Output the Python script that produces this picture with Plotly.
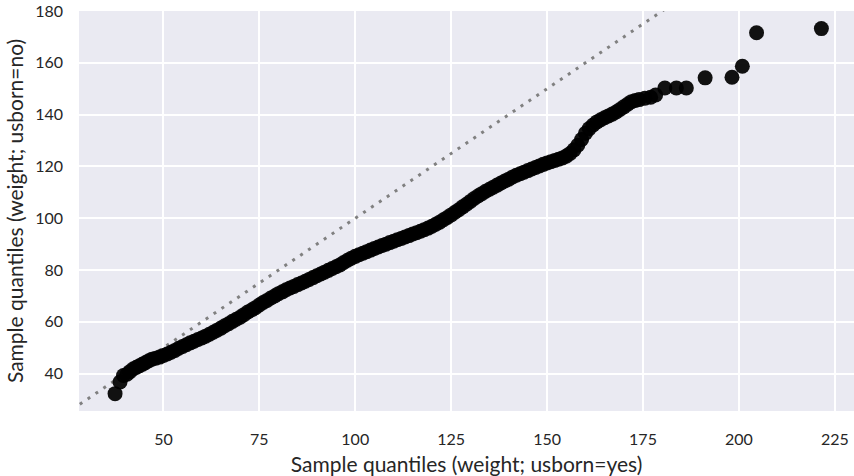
import plotly.graph_objects as go

# Quantile pairs (x: usborn=yes, y: usborn=no), rows of 10
q_yes = [37.4, 38.7, 39.6, 40.5, 41.3, 42.2, 43.0, 43.8, 44.6, 45.4,
         46.2, 47.0, 48.0, 49.0, 50.0, 51.0, 52.0, 53.0, 54.0, 55.0,
         56.0, 57.0, 58.0, 59.0, 60.0, 61.0, 62.0, 63.0, 64.0, 65.0,
         66.0, 67.0, 68.0, 69.0, 70.0, 71.0, 72.0, 73.0, 74.0, 75.0,
         76.0, 77.0, 78.0, 79.0, 80.0, 81.0, 82.0, 83.0, 84.0, 85.0,
         86.0, 87.0, 88.0, 89.0, 90.0, 91.0, 92.0, 93.0, 94.0, 95.0,
         96.0, 97.0, 98.0, 99.0, 100.0, 101.0, 102.0, 103.0, 104.0, 105.0,
         106.0, 107.0, 108.0, 109.0, 110.0, 111.0, 112.0, 113.0, 114.0, 115.0,
         116.0, 117.0, 118.0, 119.0, 120.0, 121.0, 122.0, 123.0, 124.0, 125.0,
         126.0, 127.0, 128.0, 129.0, 130.0, 131.0, 132.0, 133.0, 134.0, 135.0,
         136.0, 137.0, 138.0, 139.0, 140.0, 141.0, 142.0, 143.0, 144.0, 145.0,
         146.0, 147.0, 148.0, 149.0, 150.0, 151.0, 152.0, 153.0, 154.0, 155.0,
         156.0, 157.0, 158.0, 159.0, 160.0, 161.0, 162.0, 163.0, 164.0, 165.0,
         166.0, 167.0, 168.0, 169.0, 170.0, 171.0, 172.0, 173.0, 174.0, 175.5,
         177.0, 178.3, 180.7, 183.7, 186.3, 191.2, 198.2, 200.9, 204.6, 221.5]
q_no = [32.3, 36.8, 39.3, 39.8, 40.8, 41.9, 42.5, 43.1, 43.7, 44.3,
        45.0, 45.6, 46.0, 46.4, 47.0, 47.6, 48.3, 49.0, 49.8, 50.5,
        51.2, 51.9, 52.5, 53.2, 53.8, 54.5, 55.2, 56.0, 56.8, 57.6,
        58.5, 59.3, 60.2, 61.0, 61.8, 62.8, 63.8, 64.6, 65.5, 66.5,
        67.5, 68.3, 69.2, 70.0, 70.9, 71.6, 72.4, 73.1, 73.7, 74.4,
        75.0, 75.7, 76.4, 77.1, 77.8, 78.5, 79.2, 79.9, 80.6, 81.3,
        82.0, 82.9, 83.8, 84.6, 85.3, 85.9, 86.5, 87.1, 87.7, 88.3,
        88.9, 89.5, 90.0, 90.6, 91.1, 91.7, 92.2, 92.8, 93.3, 93.9,
        94.4, 95.0, 95.6, 96.2, 96.9, 97.7, 98.5, 99.4, 100.3, 101.3,
        102.3, 103.3, 104.4, 105.4, 106.5, 107.6, 108.6, 109.5, 110.4, 111.2,
        112.0, 112.8, 113.6, 114.4, 115.1, 115.9, 116.6, 117.2, 117.8, 118.4,
        119.0, 119.6, 120.2, 120.8, 121.3, 121.8, 122.3, 122.8, 123.3, 124.0,
        125.0, 126.4, 128.2, 130.4, 132.8, 134.6, 136.0, 137.2, 138.0, 138.8,
        139.5, 140.2, 141.0, 142.0, 143.0, 144.0, 145.0, 145.5, 145.8, 146.3,
        146.7, 147.6, 150.3, 150.3, 150.3, 154.2, 154.4, 158.7, 171.6, 173.2]

ref_line = [20, 240]

x_ticks = [50, 75, 100, 125, 150, 175, 200, 225]
y_ticks = [40, 60, 80, 100, 120, 140, 160, 180]

FONT = "Lato"
TXT = "#262626"

fig = go.Figure()
fig.add_trace(go.Scatter(
    x=ref_line, y=ref_line, mode="lines",
    line=dict(color="#808080", width=3, dash="3px,6.5px"),
    hoverinfo="skip", showlegend=False,
))
fig.add_trace(go.Scatter(
    x=q_yes, y=q_no, mode="markers",
    marker=dict(color="rgba(0,0,0,0.93)", size=15, line=dict(width=0)),
    showlegend=False,
))

fig.update_layout(
    width=854, height=476,
    margin=dict(l=79, r=0, t=11, b=65, autoexpand=False),
    paper_bgcolor="white",
    plot_bgcolor="#EAEAF2",
    font=dict(family=FONT, color=TXT, size=16),
)
fig.update_xaxes(
    range=[28.0, 230.0], tickvals=x_ticks, ticktext=[str(v) for v in x_ticks],
    showgrid=True, gridcolor="white", gridwidth=1.6, zeroline=False,
    showline=False, ticks="", ticklabelstandoff=17, automargin=False,
    tickfont=dict(size=16, family=FONT, color=TXT),
    title=dict(text="Sample quantiles (weight; usborn=yes)", font=dict(size=21, family=FONT, color=TXT), standoff=10),
)
fig.update_yaxes(
    range=[25.6, 180.0], tickvals=y_ticks, ticktext=[str(v) for v in y_ticks],
    showgrid=True, gridcolor="white", gridwidth=1.6, zeroline=False,
    showline=False, ticks="", ticklabelstandoff=15, automargin=False,
    tickfont=dict(size=16, family=FONT, color=TXT),
    title=dict(text="Sample quantiles (weight; usborn=no)", font=dict(size=21, family=FONT, color=TXT), standoff=5),
)

fig.write_html(
    "out.html",
    config={"displayModeBar": False},
    post_script="document.body.style.margin='0';document.body.style.overflow='hidden';",
)
